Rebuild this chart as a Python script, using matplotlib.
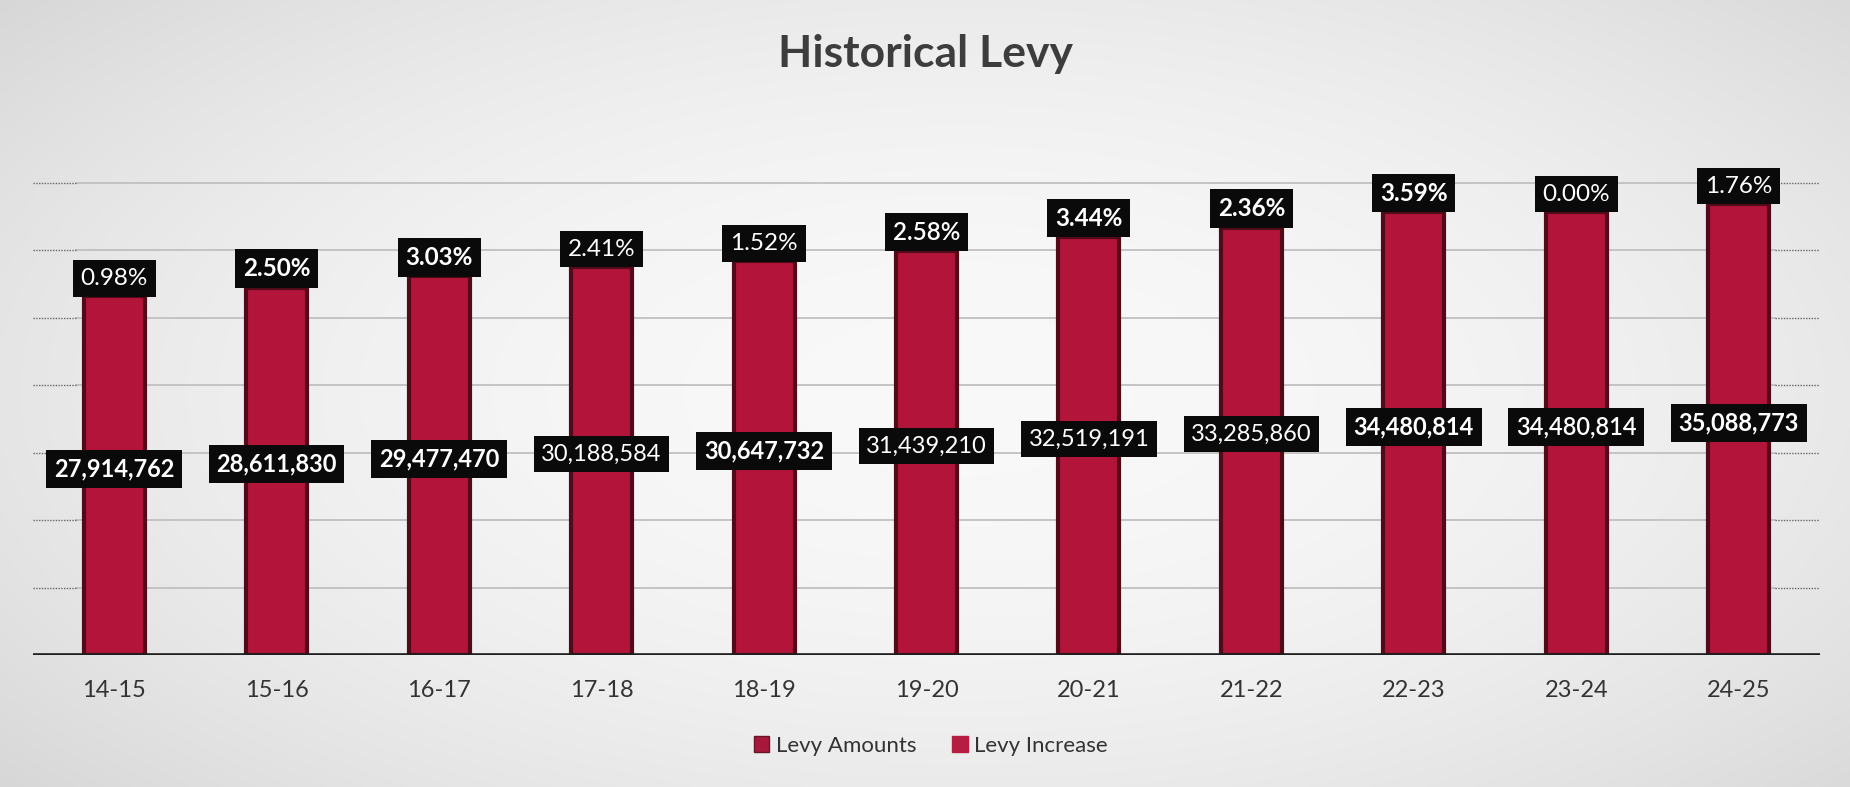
import numpy as np
import matplotlib
matplotlib.use("Agg")
import matplotlib.pyplot as plt
from matplotlib.patches import Patch

# ---- data ----
years = ["14-15", "15-16", "16-17", "17-18", "18-19", "19-20",
         "20-21", "21-22", "22-23", "23-24", "24-25"]
levy_amounts = [27914762, 28611830, 29477470, 30188584, 30647732, 31439210,
                32519191, 33285860, 34480814, 34480814, 35088773]
levy_increase = [0.98, 2.50, 3.03, 2.41, 1.52, 2.58,
                 3.44, 2.36, 3.59, 0.00, 1.76]

# ---- styles ----
amount_weights = ["bold", "bold", "bold", "normal", "bold", "normal",
                  "normal", "normal", "bold", "semibold", "bold"]
pct_weights = ["normal", "bold", "bold", "normal", "normal", "semibold",
               "bold", "bold", "bold", "normal", "normal"]
FONT = ["Lato", "DejaVu Sans"]
plt.rcParams['font.family'] = FONT

W, H, DPI = 1850, 787, 100
fig = plt.figure(figsize=(W / DPI, H / DPI), dpi=DPI)

# scanned-paper background (vignette)
bg = fig.add_axes([0, 0, 1, 1], zorder=-10)
yy, xx = np.mgrid[0:1:200j, 0:1:400j]
r2 = ((xx - 0.52) / 0.55) ** 2 + ((yy - 0.5) / 0.62) ** 2
shade = np.clip(0.975 - 0.085 * r2, 0.82, 0.975)
bg.imshow(np.dstack([shade] * 3), extent=[0, 1, 0, 1], aspect="auto",
          interpolation="bilinear")
bg.axis("off")

left, right = 33 / W, 1820 / W
bottom = 1 - 655 / H
top = 1 - 140 / H
ax = fig.add_axes([left, bottom, right - left, top - bottom])
ax.set_facecolor("none")

x = np.arange(len(years))
ymax = 40.1e6
ax.set_xlim(-0.5, len(years) - 0.5)
ax.set_ylim(0, ymax)

# gridlines
grid_step = 5.25e6
for k in range(1, 8):
    gy = k * grid_step
    ax.axhline(gy, xmin=0.024, xmax=0.975, color="#c0c0c0", lw=1.3, zorder=1)
    ax.axhline(gy, xmin=0.0, xmax=0.024, color="#666666", lw=1.0, ls=(0, (1, 1)), zorder=1)
    ax.axhline(gy, xmin=0.975, xmax=1.0, color="#666666", lw=1.0, ls=(0, (1, 1)), zorder=1)

bars = ax.bar(x, levy_amounts, width=0.375, color="#b3143a",
              edgecolor="#520a18", linewidth=3, zorder=2)

ax.axhline(0, color="#1e1e1e", lw=2.6, zorder=3)

for s in ax.spines.values():
    s.set_visible(False)
ax.set_yticks([])
ax.set_xticks(x)
ax.set_xticklabels(years, fontsize=17, color="#333333")
ax.tick_params(axis="x", length=0, pad=18)

box = dict(boxstyle="square,pad=0.32", fc="#0a0a0a", ec="none")
for i in range(len(years)):
    v = levy_amounts[i]
    ax.annotate(f"{v:,}", xy=(x[i], v / 2), xytext=(0, 5),
                textcoords="offset points", ha="center", va="center",
                fontsize=17, color="white", fontweight=amount_weights[i],
                bbox=box, zorder=5)
    ax.annotate(f"{levy_increase[i]:.2f}%", xy=(x[i], v), xytext=(0, 5.5),
                textcoords="offset points", ha="center", va="bottom",
                fontsize=17.5, color="white", fontweight=pct_weights[i],
                bbox=box, zorder=5)

fig.text(926 / W, 1 - 54 / H, "Historical Levy", ha="center", va="center",
         fontsize=32, fontweight="bold", color="#3d3d3d")

handles = [Patch(facecolor="#a8183c", edgecolor="#6a1428", label="Levy Amounts"),
           Patch(facecolor="#b51d42", edgecolor="#b51d42", label="Levy Increase")]
fig.legend(handles=handles, loc="center", bbox_to_anchor=(931 / W, 1 - 746 / H),
           ncol=2, frameon=False, fontsize=16, handlelength=0.7,
           handleheight=0.7, handletextpad=0.3, columnspacing=1.6,
           labelcolor="#333333")

fig.savefig("out.png", dpi=DPI)
